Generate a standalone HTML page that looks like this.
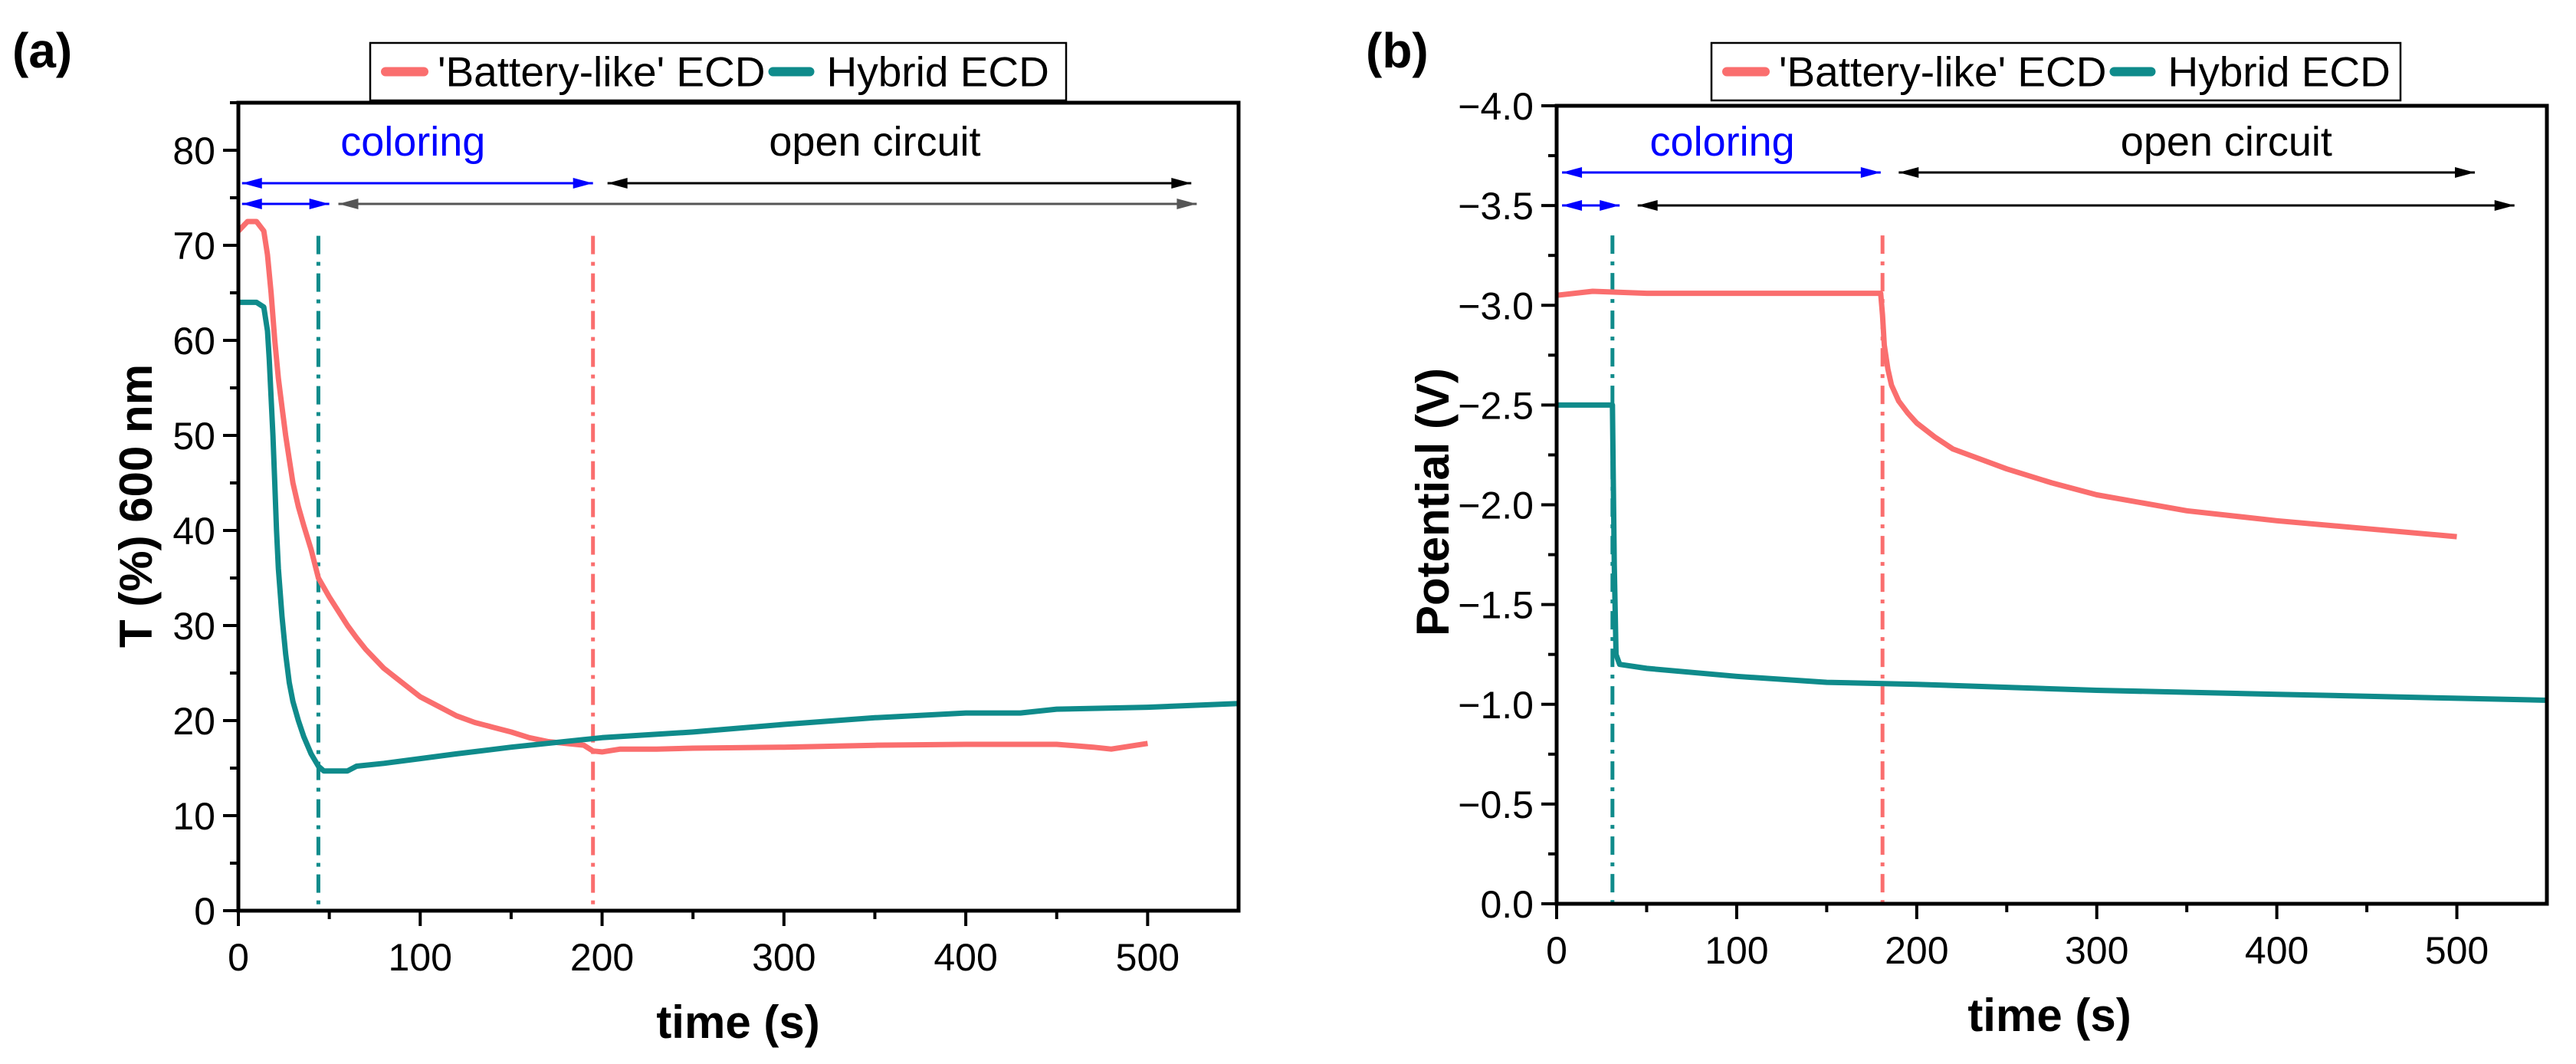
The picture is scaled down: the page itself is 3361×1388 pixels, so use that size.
<!DOCTYPE html>
<html><head><meta charset="utf-8"><style>
html,body{margin:0;padding:0;background:#fff;}
svg{display:block;font-family:"Liberation Sans",Arial,sans-serif;}
</style></head><body>
<svg id="fig" width="3361" height="1388" viewBox="0 0 3361 1388" xmlns="http://www.w3.org/2000/svg">
<text x="16" y="88" font-size="64" font-weight="bold">(a)</text>
<text x="1782" y="88" font-size="64" font-weight="bold">(b)</text>
</svg>
<script>
// Panel (a) data
const aBatT = [0,5,10,14,16,18,20,22,24,26,28,30,33,36,40,44,47,50,55,60,65,70,80,90,100,110,120,130,140,150,160,170,180,190,195,200,210,230,250,300,350,400,450,470,480,500];
const aBatV = [71.5,72.5,72.5,71.5,69,65,60,56,53,50,47.5,45,42.5,40.5,38,35,34,33,31.5,30,28.7,27.5,25.5,24,22.5,21.5,20.5,19.8,19.3,18.8,18.2,17.8,17.6,17.4,16.8,16.7,17,17,17.1,17.2,17.4,17.5,17.5,17.2,17.0,17.6];
const aHybT = [0,10,14,16,17,18,19,20,21,22,24,26,28,30,33,36,40,44,47,60,65,80,100,120,150,200,250,300,350,400,430,450,500,550];
const aHybV = [64,64,63.5,61,58,54,50,45,40,36,31,27,24,22,20,18.3,16.5,15.2,14.7,14.7,15.2,15.5,16,16.5,17.2,18.2,18.8,19.6,20.3,20.8,20.8,21.2,21.4,21.8];
const aYTicks = [0,10,20,30,40,50,60,70,80];
const aXTicks = [0,100,200,300,400,500];
// Panel (b) data
const bBatT = [0,20,50,100,150,180,181,182,184,186,190,195,200,210,220,235,250,275,300,350,400,450,500];
const bBatV = [-3.05,-3.07,-3.06,-3.06,-3.06,-3.06,-2.95,-2.8,-2.68,-2.6,-2.52,-2.46,-2.41,-2.34,-2.28,-2.23,-2.18,-2.11,-2.05,-1.97,-1.92,-1.88,-1.84];
const bHybT = [0,31,32,33,35,50,100,150,200,300,400,500,550];
const bHybV = [-2.5,-2.5,-1.7,-1.25,-1.2,-1.18,-1.14,-1.11,-1.1,-1.07,-1.05,-1.03,-1.02];
const bYTicks = [0,-0.5,-1,-1.5,-2,-2.5,-3,-3.5,-4];
const bYLabels = ["0.0","\u22120.5","\u22121.0","\u22121.5","\u22122.0","\u22122.5","\u22123.0","\u22123.5","\u22124.0"];
const bXTicks = [0,100,200,300,400,500];

const NS="http://www.w3.org/2000/svg";
const svg=document.getElementById('fig');
const RED="#fa6e6e", TEAL="#0f8b8b";
function mk(tag,attrs,parent){const e=document.createElementNS(NS,tag);for(const k in attrs)e.setAttribute(k,attrs[k]);(parent||svg).appendChild(e);return e;}

function panel(p){
  const g=mk('g',{});
  
  
  const X=v=>p.x0+(v-p.xmin)/(p.xmax-p.xmin)*(p.x1-p.x0);
  const Y=v=>p.y0+(v-p.ymin)/(p.ymax-p.ymin)*(p.y1-p.y0);
  p.markers.forEach(m=>{
    const l=mk('line',{x1:X(m.t),x2:X(m.t),y1:Y(m.top),y2:p.y0,stroke:m.c,'stroke-width':5,'stroke-dasharray':'24,10,5,10'},g);
    
    
  });
  p.series.forEach(s=>{
    const d=s.t.map((t,i)=>(i?'L':'M')+X(t).toFixed(1)+','+Y(s.v[i]).toFixed(1)).join('');
    const pa=mk('path',{d:d,fill:'none',stroke:s.c,'stroke-width':7,'stroke-linejoin':'round'},g);
    
    
  });
  const fr=mk('rect',{x:p.x0,y:p.y1,width:p.x1-p.x0,height:p.y0-p.y1,fill:'none',stroke:'#000','stroke-width':5},g);
  
  
  p.yt.forEach((v,i)=>{
    mk('line',{x1:p.x0-20,x2:p.x0,y1:Y(v),y2:Y(v),stroke:'#000','stroke-width':4},g);
    if(i<p.yt.length-1){const m=(v+p.yt[i+1])/2;mk('line',{x1:p.x0-11,x2:p.x0,y1:Y(m),y2:Y(m),stroke:'#000','stroke-width':4},g);}
    const t=mk('text',{x:p.x0-30,y:Y(v)+18,'font-size':50,'text-anchor':'end'},g);
    t.textContent=p.yl?p.yl[i]:String(v);
    
    
  });
  if(p.extraMinorY){const m=p.extraMinorY;mk('line',{x1:p.x0-11,x2:p.x0,y1:Y(m),y2:Y(m),stroke:'#000','stroke-width':4},g);}
  p.xt.forEach(v=>{
    mk('line',{x1:X(v),x2:X(v),y1:p.y0,y2:p.y0+20,stroke:'#000','stroke-width':4},g);
    const m=v+50; if(m<p.xmax) mk('line',{x1:X(m),x2:X(m),y1:p.y0,y2:p.y0+11,stroke:'#000','stroke-width':4},g);
    const t=mk('text',{x:X(v),y:p.y0+78,'font-size':50,'text-anchor':'middle'},g);
    t.textContent=String(v);
    
    
  });
  const xt=mk('text',{x:p.xtx,y:p.xty,'font-size':60,'font-weight':'bold','text-anchor':'middle'},g);
  xt.textContent='time (s)';
  
  
  const yt=mk('text',{x:0,y:0,'font-size':60,'font-weight':'bold','text-anchor':'middle',transform:`translate(${p.ytx},${p.yty}) rotate(-90)`},g);
  yt.textContent=p.ytitle;
  
  
  p.arrows.forEach(a=>{
    const y=a.y, xa=X(a.a), xb=X(a.b);
    const ag=mk('g',{},g);
    
    
    mk('line',{x1:xa,x2:xb,y1:y,y2:y,stroke:a.c,'stroke-width':3},ag);
    mk('polygon',{points:`${xa},${y} ${xa+26},${y-7} ${xa+26},${y+7}`,fill:a.c},ag);
    mk('polygon',{points:`${xb},${y} ${xb-26},${y-7} ${xb-26},${y+7}`,fill:a.c},ag);
  });
  const c1=mk('text',{x:X(p.colX),y:p.labY,'font-size':54,fill:'#0000ff','text-anchor':'middle'},g);
  c1.textContent='coloring';
  
  
  const c2=mk('text',{x:X(p.ocX),y:p.labY,'font-size':54,fill:'#000','text-anchor':'middle'},g);
  c2.textContent='open circuit';
  
  
  const lg=mk('g',{},g);
  
  
  mk('rect',{x:p.lx0,y:p.ly0,width:p.lx1-p.lx0,height:p.ly1-p.ly0,fill:'#fff',stroke:'#000','stroke-width':2.5},lg);
  const ly=(p.ly0+p.ly1)/2;
  mk('line',{x1:p.lx0+20,x2:p.lx0+70,y1:ly,y2:ly,stroke:RED,'stroke-width':12,'stroke-linecap':'round'},lg);
  const l1=mk('text',{x:p.lx0+88,y:ly+19,'font-size':55},lg);
  l1.textContent="'Battery-like' ECD";
  
  
  const sx=p.lx0+88+l1.getComputedTextLength()+10;
  mk('line',{x1:sx,x2:sx+48,y1:ly,y2:ly,stroke:TEAL,'stroke-width':12,'stroke-linecap':'round'},lg);
  const l2=mk('text',{x:sx+70,y:ly+19,'font-size':55},lg);
  l2.textContent="Hybrid ECD";
  
  
}

panel({id:'panel-a',x0:311,x1:1616,y0:1188,y1:134,xmin:0,xmax:550,ymin:0,ymax:85,
  xt:aXTicks,yt:aYTicks,extraMinorY:85,ytitle:'T (%) 600 nm',ytx:198,yty:660,xtx:963,xty:1354,
  series:[{name:'battery-line',t:aBatT,v:aBatV,c:RED},{name:'hybrid-line',t:aHybT,v:aHybV,c:TEAL}],
  markers:[{t:44,top:71,c:TEAL},{t:195,top:71,c:RED}],
  arrows:[{a:2,b:195,y:239,c:'#0000ff'},{a:203,b:524,y:239,c:'#000'},{a:2,b:50,y:266,c:'#0000ff'},{a:55,b:527,y:266,c:'#555'}],
  colX:96,ocX:350,labY:203,lx0:483,lx1:1391,ly0:56,ly1:131});
panel({id:'panel-b',x0:2031,x1:3323,y0:1179,y1:138,xmin:0,xmax:550,ymin:0,ymax:-4,
  xt:bXTicks,yt:bYTicks,yl:bYLabels,ytitle:'Potential (V)',ytx:1890,yty:655,xtx:2674,xty:1345,
  series:[{name:'battery-line',t:bBatT,v:bBatV,c:RED},{name:'hybrid-line',t:bHybT,v:bHybV,c:TEAL}],
  markers:[{t:31,top:-3.35,c:TEAL},{t:181,top:-3.35,c:RED}],
  arrows:[{a:3,b:180,y:225,c:'#0000ff'},{a:190,b:510,y:225,c:'#000'},{a:3,b:35,y:268,c:'#0000ff'},{a:45,b:532,y:268,c:'#000'}],
  colX:92,ocX:372,labY:203,lx0:2233,lx1:3132,ly0:56,ly1:131});
</script>
</body></html>
